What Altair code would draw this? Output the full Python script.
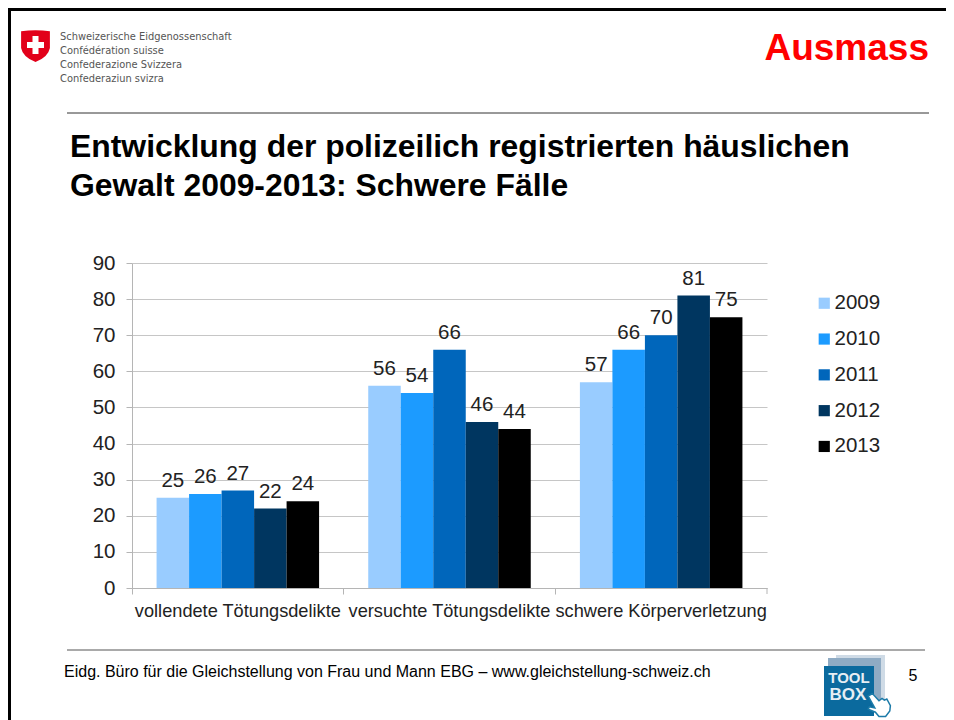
import altair as alt
import pandas as pd

categories = ["vollendete Tötungsdelikte", "versuchte Tötungsdelikte", "schwere Körperverletzung"]
years = ["2009", "2010", "2011", "2012", "2013"]
values_2009 = [25, 56, 57]
values_2010 = [26, 54, 66]
values_2011 = [27, 66, 70]
values_2012 = [22, 46, 81]
values_2013 = [24, 44, 75]
colors = ["#99CCFF", "#1C9BFF", "#0066BB", "#003660", "#000000"]
y_ticks = [0, 10, 20, 30, 40, 50, 60, 70, 80, 90]
FONT = "Liberation Sans"

rows = []
for yr, vals in zip(years, [values_2009, values_2010, values_2011, values_2012, values_2013]):
    for c, v in zip(categories, vals):
        rows.append({"cat": c, "year": yr, "value": v})
df = pd.DataFrame(rows)

X0, Y0, W, H = 132, 263, 635, 325
one = pd.DataFrame({"a": [0]})

x_scale = alt.Scale(domain=categories, paddingInner=0, paddingOuter=0)
off_scale = alt.Scale(domain=years, paddingInner=0, paddingOuter=0.756)
y_scale = alt.Scale(domain=[0, 90], nice=False)
x_axis = alt.Axis(
    bandPosition=0, labelAngle=0, labelFontSize=18.2, labelFont=FONT, labelColor="#222222",
    labelPadding=8, tickSize=6, tickColor="#b5b5b5", domainColor="#b5b5b5", grid=False,
    labelAlign="center", labelLimit=0, labelOverlap=False)
y_axis = alt.Axis(
    values=y_ticks, labelFontSize=20.5, labelFont=FONT, labelColor="#222222", labelPadding=11,
    labelOverlap=False, tickSize=6, tickColor="#b5b5b5", domainColor="#b5b5b5",
    gridColor="#c6c6c6", grid=True)

def px(v):
    return alt.value(v - X0)

def py(v):
    return alt.value(v - Y0)

def text(s, x, y, size, color="#000000", bold=False, align="left", font=FONT):
    return alt.Chart(one).mark_text(
        text=s, fontSize=size, color=color, align=align, baseline="alphabetic",
        font=font, fontWeight="bold" if bold else "normal",
    ).encode(x=px(x), y=py(y))

def box(x1, x2, y1, y2, color):
    return alt.Chart(one).mark_rect(color=color, clip=False).encode(
        x=px(x1), x2=px(x2), y=py(y1), y2=py(y2))

def rule(x1, x2, y1, y2, color, w=1):
    return alt.Chart(one).mark_rule(color=color, strokeWidth=w).encode(
        x=px(x1), x2=px(x2), y=py(y1), y2=py(y2))

def shape(path, x, y, size, fill, stroke=None, sw=0):
    kw = {"stroke": stroke, "strokeWidth": sw} if stroke else {"strokeWidth": 0}
    return alt.Chart(one).mark_point(shape=path, filled=True, fill=fill, size=size, opacity=1, **kw).encode(
        x=px(x), y=py(y))

bars = alt.Chart(df).mark_bar(stroke=None).encode(
    x=alt.X("cat:N", scale=x_scale, sort=categories, title=None, axis=x_axis),
    xOffset=alt.XOffset("year:N", scale=off_scale, sort=years),
    y=alt.Y("value:Q", scale=y_scale, title=None, axis=y_axis),
    color=alt.Color("year:N", scale=alt.Scale(domain=years, range=colors), title=None, legend=alt.Legend(
        orient="none", legendX=682, legendY=30, symbolType="square", symbolSize=125, symbolStrokeWidth=0,
        labelFontSize=20.5, labelFont=FONT, labelColor="#222222", rowPadding=14.8, labelOffset=0,
        symbolOpacity=1, padding=0)),
)

labels = alt.Chart(df).mark_text(
    fontSize=20.5, font=FONT, color="#222222", baseline="alphabetic", dy=-11,
).encode(
    x=alt.X("cat:N", scale=x_scale, sort=categories, title=None, axis=x_axis),
    xOffset=alt.XOffset("year:N", scale=off_scale, sort=years),
    y=alt.Y("value:Q", scale=y_scale, title=None, axis=y_axis),
    text="value:Q",
)

SHIELD = "M-0.9,-0.92 Q0,-1.06 0.9,-0.92 L0.9,0.12 Q0.8,0.68 0,1 Q-0.8,0.68 -0.9,0.12 Z"
HAND = ("M-0.9,-0.75 L-0.55,-0.95 L0.0,-0.35 L0.25,-0.55 L0.45,-0.4 L0.65,-0.5 L0.95,0.05 "
        "L0.9,0.5 L0.55,0.95 L0.0,0.95 L-0.3,0.6 L-0.9,0.35 L-0.8,0.15 L-0.35,0.25 Z")

parts = [
    bars,
    labels,
    # x-axis closing tick
    rule(767, 767, 588, 594, "#b5b5b5"),
    # slide frame (the page margin keeps it 8px in from the picture edge)
    box(8, 11, 8, 720, "#000000"),
    box(8, 946, 8, 11, "#000000"),
    # header
    shape(SHIELD, 35.5, 46, 1024, "#E2001A"),
    box(32.5, 38.5, 36, 54, "#FFFFFF"),
    box(27, 44, 42, 48, "#FFFFFF"),
    text("Schweizerische Eidgenossenschaft", 60, 40, 9.9, "#555555", font="DejaVu Sans"),
    text("Confédération suisse", 60, 54, 9.9, "#555555", font="DejaVu Sans"),
    text("Confederazione Svizzera", 60, 68, 9.9, "#555555", font="DejaVu Sans"),
    text("Confederaziun svizra", 60, 82, 9.9, "#555555", font="DejaVu Sans"),
    text("Ausmass", 929, 60, 37, "#FF0000", bold=True, align="right"),
    rule(67, 929, 113, 113, "#333333"),
    # headline
    text("Entwicklung der polizeilich registrierten häuslichen", 70, 157, 31.9, bold=True),
    text("Gewalt 2009-2013: Schwere Fälle", 70, 196, 31.9, bold=True),
    # footer
    rule(67, 925, 650, 650, "#555555"),
    text("Eidg. Büro für die Gleichstellung von Frau und Mann EBG – www.gleichstellung-schweiz.ch", 64, 677, 16),
    text("5", 913, 681, 16, align="center"),
    # toolbox icon
    box(836, 885, 655, 705, "#CFDBE6"),
    box(828, 881, 658, 712, "#8FABC4"),
    box(824, 874, 666, 716, "#0B6A9E"),
    text("TOOL", 849, 683, 15, "#E6EEF4", bold=True, align="center"),
    text("BOX", 848, 700, 17, "#E6EEF4", bold=True, align="center"),
    shape(HAND, 879, 705, 576, "#FFFFFF", "#1B7AA8", 1.5),
]

chart = alt.layer(*parts).resolve_scale(x="shared", y="shared").properties(
    width=W, height=H,
    padding={"left": X0 - 8, "top": Y0 - 8, "right": 938 - (X0 - 8) - W, "bottom": 712 - (Y0 - 8) - H},
    autosize=alt.AutoSizeParams(type="none"),
    background="#FFFFFF",
).configure_view(stroke=None)

chart.save("out.html", embed_options={"renderer": "svg", "actions": False})
